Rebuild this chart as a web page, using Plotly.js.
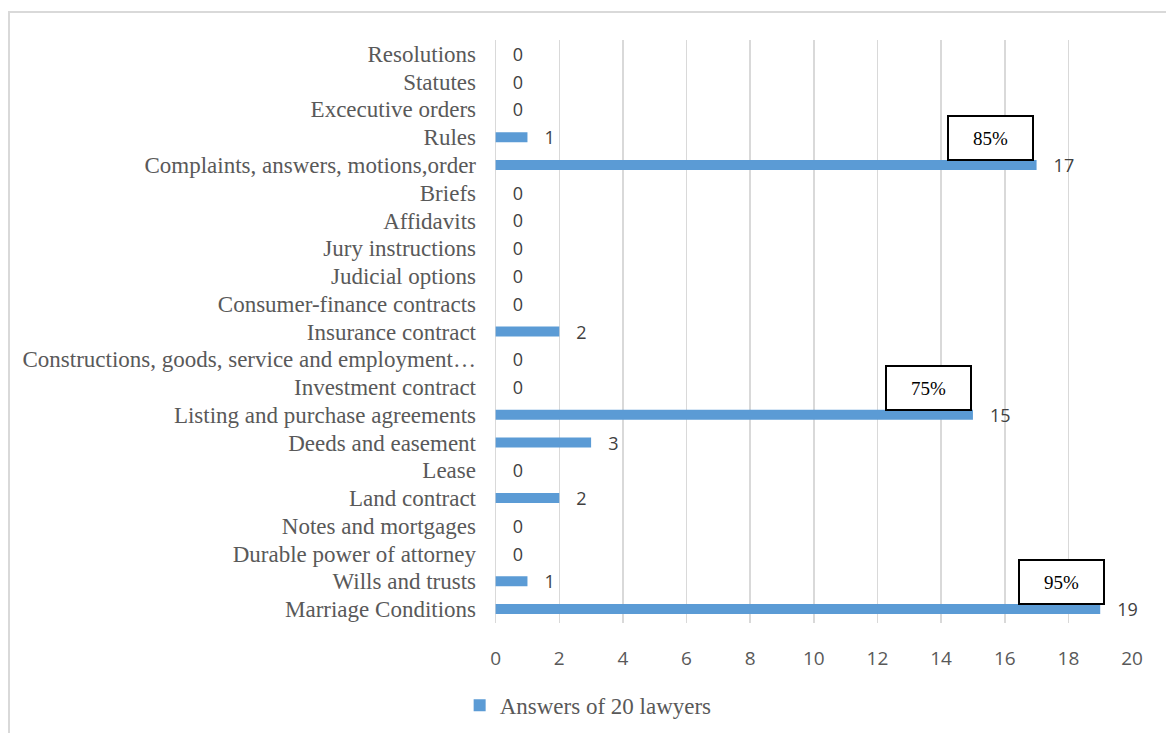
<!DOCTYPE html>
<html>
<head>
<meta charset="utf-8">
<script src="https://cdn.plot.ly/plotly-3.0.1.min.js"></script>
<style>
html,body{margin:0;padding:0;background:#fff;}
#chart{width:1166px;height:733px;position:absolute;left:0;top:0;}
#frame{position:absolute;left:8px;top:11px;width:1170px;height:740px;border-top:2px solid #d9d9d9;border-left:2px solid #d9d9d9;pointer-events:none;}
</style>
</head>
<body>
<div id="chart"></div>
<div id="frame"></div>
<script>
// categories listed bottom to top
const categories = [
  "Marriage Conditions",
  "Wills and trusts",
  "Durable power of attorney",
  "Notes and mortgages",
  "Land contract",
  "Lease",
  "Deeds and easement",
  "Listing and purchase agreements",
  "Investment contract",
  "Constructions, goods, service and employment…",
  "Insurance contract",
  "Consumer-finance contracts",
  "Judicial options",
  "Jury instructions",
  "Affidavits",
  "Briefs",
  "Complaints, answers, motions,order",
  "Rules",
  "Excecutive orders",
  "Statutes",
  "Resolutions"
];
const answers = [19, 1, 0, 0, 2, 0, 3, 15, 0, 0, 2, 0, 0, 0, 0, 0, 17, 1, 0, 0, 0];
const seriesName = "Answers of 20 lawyers";
const xTicks = [0, 2, 4, 6, 8, 10, 12, 14, 16, 18, 20];
const callouts = [
  {text: "85%", x: 15.56, y: "Rules"},
  {text: "75%", x: 13.6, y: "Investment contract"},
  {text: "95%", x: 17.79, y: "Wills and trusts"}
];

const trace = {
  type: "bar",
  orientation: "h",
  y: categories,
  x: answers,
  name: seriesName,
  marker: {color: "#5b9bd5"},
  text: answers.map(v => "\u00a0\u00a0\u00a0" + v),
  textposition: "outside",
  constraintext: "none",
  cliponaxis: false,
  textfont: {family: "Open Sans, Liberation Sans, sans-serif", size: 18, color: "#404040"},
  hoverinfo: "x+y"
};

const layout = {
  width: 1166, height: 733,
  margin: {l: 495, r: 33, t: 40, b: 110, autoexpand: false},
  paper_bgcolor: "#fff", plot_bgcolor: "#fff",
  bargap: 0.64,
  showlegend: true,
  legend: {
    orientation: "h", x: 0.146, xanchor: "center", y: -0.141, yanchor: "middle",
    font: {family: "Liberation Serif, Times New Roman, serif", size: 23, color: "#595959"}
  },
  xaxis: {
    range: [-0.02, 20.03],
    tickmode: "array",
    tickvals: xTicks,
    ticktext: xTicks.map(String),
    showgrid: true, gridcolor: "#d9d9d9", gridwidth: 1.5,
    zeroline: true, zerolinecolor: "#d9d9d9", zerolinewidth: 1.5,
    showline: false,
    ticks: "", ticklen: 0,
    tickfont: {family: "Open Sans, Liberation Sans, sans-serif", size: 19, color: "#595959"},
    ticklabelstandoff: 22
  },
  yaxis: {
    type: "category",
    categoryorder: "array", categoryarray: categories,
    tickmode: "array", tickvals: categories, ticktext: categories,
    showgrid: false, zeroline: false, showline: false,
    ticks: "", ticklen: 0,
    automargin: false,
    tickfont: {family: "Liberation Serif, Times New Roman, serif", size: 23, color: "#595959"},
    ticklabelstandoff: 18
  },
  annotations: callouts.map(c => ({
    x: c.x, y: c.y, xref: "x", yref: "y",
    text: c.text, showarrow: false,
    width: 83, height: 42,
    bgcolor: "#ffffff", bordercolor: "#000000", borderwidth: 2, borderpad: 0,
    font: {family: "Liberation Serif, Times New Roman, serif", size: 19, color: "#000"},
    yshift: -1
  }))
};

Plotly.newPlot("chart", [trace], layout, {displayModeBar: false, staticPlot: true});
</script>
</body>
</html>
